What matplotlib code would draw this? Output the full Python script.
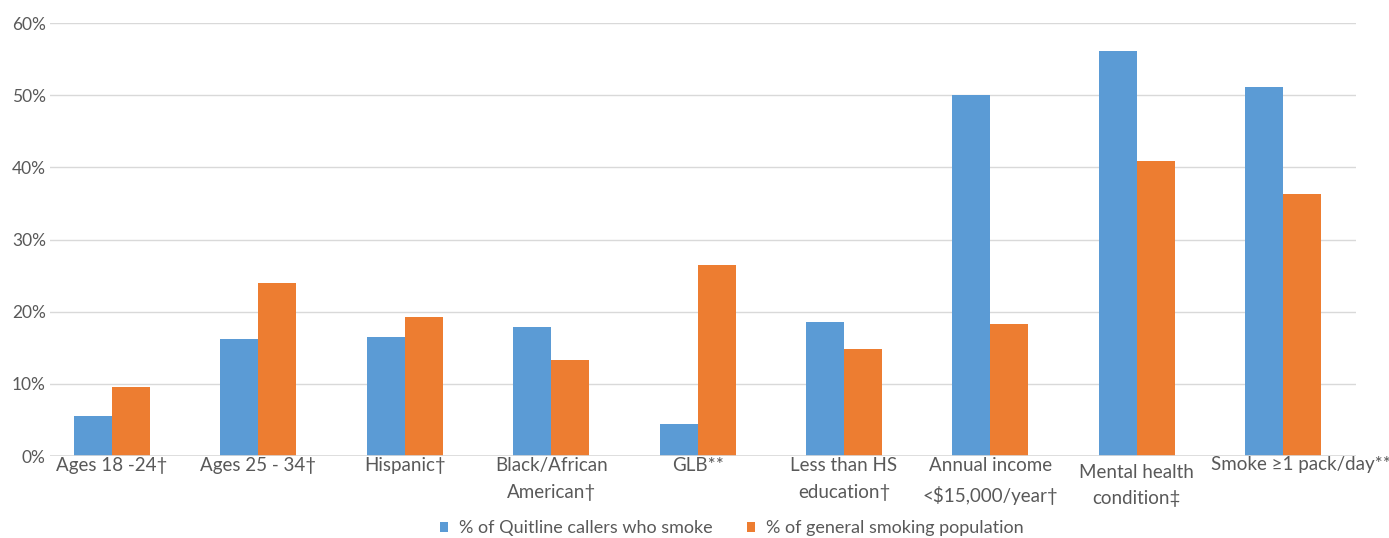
import numpy as np
import matplotlib
matplotlib.use("Agg")
import matplotlib.pyplot as plt
import matplotlib.transforms as mtransforms
from matplotlib.patches import Patch
from matplotlib.ticker import PercentFormatter

plt.rcParams["font.family"] = ["Lato", "DejaVu Sans"]

# Groups and values (percent)
categories = [
    "Ages 18 -24\u2020",
    "Ages 25 - 34\u2020",
    "Hispanic\u2020",
    "Black/African\nAmerican\u2020",
    "GLB**",
    "Less than HS\neducation\u2020",
    "Annual income\n<$15,000/year\u2020",
    "Mental health\ncondition\u2021",
    "Smoke \u22651 pack/day**",
]
quitline = [5.5, 16.2, 16.5, 17.9, 4.4, 18.6, 50.0, 56.1, 51.2]
general = [9.6, 24.0, 19.3, 13.3, 26.5, 14.8, 18.3, 40.9, 36.3]

series_names = ["% of Quitline callers who smoke", "% of general smoking population"]
colors = ["#5B9BD5", "#ED7D31"]
text_color = "#595959"

fig = plt.figure(figsize=(13.89, 5.38), dpi=100)
ax = fig.add_axes([0.036, 0.1524, 0.9402, 0.8046])

x = np.arange(len(categories))
w = 0.26
ax.bar(x - w / 2, quitline, width=w, color=colors[0], zorder=3)
ax.bar(x + w / 2, general, width=w, color=colors[1], zorder=3)

ax.set_xlim(-0.4235, 8.497)
ax.set_ylim(0, 60)
ax.set_yticks(range(0, 61, 10))
ax.yaxis.set_major_formatter(PercentFormatter(decimals=0))
ax.grid(axis="y", color="#d9d9d9", linewidth=1, zorder=0)

for side in ["top", "right", "left", "bottom"]:
    ax.spines[side].set_visible(False)
ax.axhline(0, color="#d9d9d9", linewidth=1.2, zorder=4)

ax.tick_params(axis="y", length=0, labelsize=12.5, labelcolor=text_color, pad=3)
ax.set_xticks(x)
ax.set_xticklabels(categories, fontsize=13.5, color=text_color, linespacing=1.7)
ax.tick_params(axis="x", length=0, pad=1)

# nudge a couple of the category labels (offsets in points)
nudges = {7: (0, -4.5), 8: (13, 1)}
for i, lbl in enumerate(ax.get_xticklabels()):
    if i in nudges:
        dx, dy = nudges[i]
        lbl.set_transform(lbl.get_transform() +
                          mtransforms.ScaledTranslation(dx / 72, dy / 72, fig.dpi_scale_trans))

handles = [Patch(facecolor=c, edgecolor="none") for c in colors]
fig.legend(handles, series_names, loc="lower center", bbox_to_anchor=(0.527, -0.027),
           ncol=2, frameon=False, fontsize=13, handlelength=0.45, handleheight=0.45,
           handletextpad=0.6, columnspacing=1.9, labelcolor=text_color)

fig.savefig("out.png", dpi=100, facecolor="white")
